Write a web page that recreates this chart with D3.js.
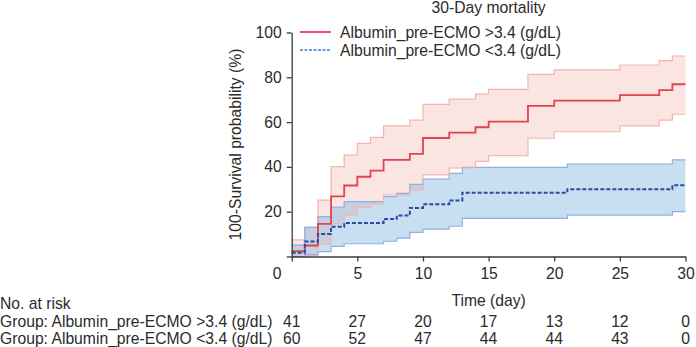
<!DOCTYPE html>
<html>
<head>
<script src="https://d3js.org/d3.v7.min.js"></script>
<style>
  body { margin: 0; background: #fff; }
  text { font-family: "Liberation Sans", Arial, sans-serif; fill: #2b2b2b; }
</style>
</head>
<body>
<script>
    // group >3.4 g/dL (red)
    let hiTimes = [0, 1, 2, 3, 4, 5, 6, 7, 9, 10, 12, 14, 15, 18, 20, 25, 28, 29];
    let hiEst   = [2.4, 4.9, 14.6, 26.8, 31.7, 35.6, 38.3, 43.1, 45.8, 52.9, 55.3, 57.7, 60.2, 67.2, 69.6, 72.0, 74.3, 76.9];
    let hiUpper = [7.4, 13.0, 25.2, 40.1, 45.3, 50.5, 53.2, 58.3, 60.9, 67.9, 70.3, 72.5, 74.6, 81.3, 83.3, 85.5, 87.4, 89.5];
    let hiLower = [0, 0.5, 5.5, 14.5, 18.5, 21.8, 23.5, 27.5, 29.7, 36.4, 39.5, 42.5, 45.0, 52.8, 55.7, 58.3, 60.9, 63.5];

    // group <3.4 g/dL (blue)
    let loTimes = [0, 1, 2, 3, 4, 7, 8, 9, 10, 12, 13, 21, 29];
    let loEst   = [1.7, 6.7, 10.0, 13.3, 15.0, 16.7, 18.3, 21.7, 23.3, 25.0, 28.5, 30.0, 31.8];
    let loUpper = [5.1, 13.0, 17.8, 22.0, 24.5, 26.7, 28.2, 32.2, 34.5, 37.1, 39.8, 41.3, 43.1];
    let loLower = [0, 0.8, 2.2, 4.5, 5.7, 6.8, 8.2, 10.8, 12.2, 13.5, 17.0, 18.5, 20.0];

    let xTicks = [0, 5, 10, 15, 20, 25, 30];
    let yTicks = [0, 20, 40, 60, 80, 100];
    let riskHi = [41, 27, 20, 17, 13, 12, 0];
    let riskLo = [60, 52, 47, 44, 44, 43, 0];
    let groupNames = ["Albumin_pre-ECMO >3.4 (g/dL)", "Albumin_pre-ECMO <3.4 (g/dL)"];

    let width = 696, height = 347;
    let endDay = 30;
    let fs = 15.7;

    let svg = d3.select("body").append("svg")
        .attr("width", width)
        .attr("height", height);

    let x = d3.scaleLinear().domain([0, 30]).range([291.7, 685.5]);
    let y = d3.scaleLinear().domain([0, 100]).range([256.5, 32.5]);

    // build step rows, extend last value to day 30
    function rows(times, est, up, lowv) {
        let r = times.map((t, i) => ({t: t, e: est[i], u: up[i], l: lowv[i]}));
        let last = r[r.length - 1];
        r.push({t: endDay, e: last.e, u: last.u, l: last.l});
        return r;
    }
    let hiRows = rows(hiTimes, hiEst, hiUpper, hiLower);
    let loRows = rows(loTimes, loEst, loUpper, loLower);

    let band = d3.area().curve(d3.curveStepAfter)
        .x(d => x(d.t)).y0(d => y(d.l)).y1(d => y(d.u));
    let lineOf = key => d3.line().curve(d3.curveStepAfter)
        .x(d => x(d.t)).y(d => y(d[key]));

    // confidence bands
    svg.append("path").datum(hiRows).attr("d", band)
        .attr("fill", "rgba(240,150,140,0.25)");
    svg.append("path").datum(loRows).attr("d", band)
        .attr("fill", "rgba(110,170,222,0.38)");

    ["u", "l"].forEach(k => {
        svg.append("path").datum(hiRows).attr("d", lineOf(k))
            .attr("fill", "none").attr("stroke", "#f2b5b0").attr("stroke-width", 1.2);
        svg.append("path").datum(loRows).attr("d", lineOf(k))
            .attr("fill", "none").attr("stroke", "#8fb0e2").attr("stroke-width", 1.2);
    });

    // estimate curves
    svg.append("path").datum(hiRows).attr("d", lineOf("e"))
        .attr("fill", "none").attr("stroke", "#e2434f").attr("stroke-width", 1.8);
    svg.append("path").datum(loRows).attr("d", lineOf("e"))
        .attr("fill", "none").attr("stroke", "#2a4aa6").attr("stroke-width", 2)
        .attr("stroke-dasharray", "4,2");

    // axes
    let xAxis = svg.append("g").attr("transform", "translate(0," + y(0) + ")")
        .call(d3.axisBottom(x).tickValues(xTicks).tickSize(5).tickSizeOuter(0).tickPadding(6)
            .tickFormat(d => d === 0 ? "" : d));
    let yAxis = svg.append("g").attr("transform", "translate(" + x(0) + ",0)")
        .call(d3.axisLeft(y).tickValues(yTicks).tickSize(5).tickSizeOuter(0).tickPadding(5)
            .tickFormat(d => d === 0 ? "" : d));
    [xAxis, yAxis].forEach(a => {
        a.selectAll("path, line").attr("stroke", "#3a3a3a").attr("stroke-width", 1.3);
        a.selectAll("text").attr("font-size", fs).attr("font-family", "Liberation Sans, Arial, sans-serif")
            .attr("fill", "#2b2b2b");
    });

    // shared origin label
    svg.append("text").attr("x", 277).attr("y", 279)
        .attr("text-anchor", "middle").attr("font-size", fs).text("0");

    svg.append("text").attr("x", (x(0) + x(30)) / 2).attr("y", 305.5)
        .attr("text-anchor", "middle").attr("font-size", fs).text("Time (day)");

    svg.append("text")
        .attr("transform", "translate(240.5," + ((y(0) + y(100)) / 2) + ") rotate(-90)")
        .attr("text-anchor", "middle").attr("font-size", fs)
        .text("100-Survival probability (%)");

    svg.append("text").attr("x", (x(0) + x(30)) / 2).attr("y", 13)
        .attr("text-anchor", "middle").attr("font-size", fs).text("30-Day mortality");

    // legend
    let legend = [
        {name: groupNames[0], color: "#e8204c", dash: null},
        {name: groupNames[1], color: "#3a7fd0", dash: "3,1.5"}
    ];
    legend.forEach((d, i) => {
        let ly = 32 + i * 18;
        svg.append("line").attr("x1", 300).attr("x2", 331).attr("y1", ly).attr("y2", ly)
            .attr("stroke", d.color).attr("stroke-width", 1.6)
            .attr("stroke-dasharray", d.dash);
        svg.append("text").attr("x", 340).attr("y", ly + 5.5)
            .attr("font-size", fs).text(d.name);
    });

    // risk table
    svg.append("text").attr("x", 0).attr("y", 308.5).attr("font-size", fs).text("No. at risk");
    [riskHi, riskLo].forEach((vals, r) => {
        let ry = 326.5 + r * 17;
        svg.append("text").attr("x", 0).attr("y", ry).attr("font-size", fs)
            .text("Group: " + groupNames[r]);
        svg.selectAll(".risk" + r)
            .data(vals)
            .join("text")
            .attr("class", "risk" + r)
            .attr("x", (d, i) => x(xTicks[i]))
            .attr("y", ry)
            .attr("text-anchor", "middle")
            .attr("font-size", fs)
            .text(d => d);
    });
</script>
</body>
</html>
